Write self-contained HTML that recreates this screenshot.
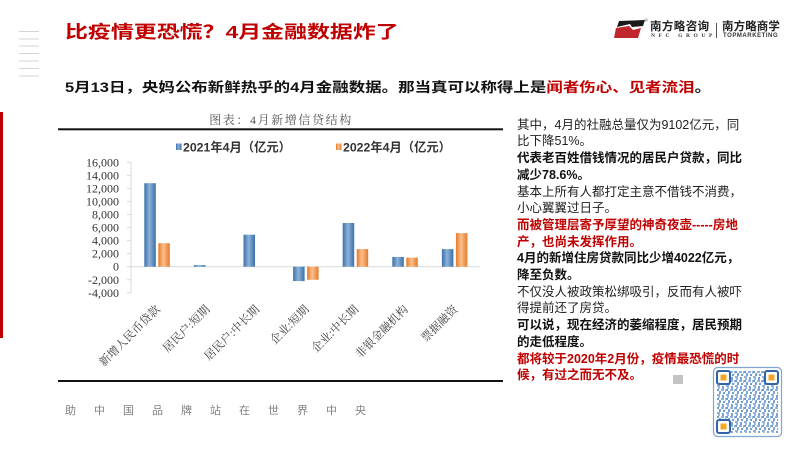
<!DOCTYPE html>
<html><head><meta charset="utf-8">
<style>
html,body{margin:0;padding:0;background:#fff;}
body{width:800px;height:450px;overflow:hidden;position:relative;font-family:"Liberation Sans","Noto Sans CJK SC",sans-serif;}
.abs{position:absolute;white-space:nowrap;}
.title{left:65px;top:24px;font-size:17.5px;line-height:17.5px;font-weight:bold;color:#c00000;transform:scaleX(1.31);transform-origin:left center;}
.sub{left:65px;top:80.5px;font-size:13.5px;line-height:13.5px;font-weight:bold;color:#111;transform:scaleX(1.22);transform-origin:left center;}
.sub .r{color:#c00000;}
.rt{left:517px;top:116.7px;font-size:12.5px;line-height:16.7px;color:#222;}
.rt .b{font-weight:bold;color:#111;}
.rt .r{font-weight:bold;color:#c00000;}
.slogan{left:65px;top:405px;font-size:11px;line-height:13px;color:#808080;letter-spacing:18px;}
</style></head>
<body>
<!-- left red bar -->
<div class="abs" style="left:0;top:112px;width:3px;height:226px;background:#c00000;"></div>
<!-- menu lines -->
<svg class="abs" style="left:0;top:0" width="60" height="90">
<g stroke="#d4d4d4" stroke-width="1">
<line x1="19" y1="31.5" x2="39" y2="31.5"/>
<line x1="19" y1="39" x2="39" y2="39"/>
<line x1="19" y1="46" x2="39" y2="46"/>
<line x1="19" y1="53.5" x2="39" y2="53.5"/>
<line x1="19" y1="61" x2="39" y2="61"/>
<line x1="19" y1="68.5" x2="39" y2="68.5"/>
<line x1="19" y1="76" x2="39" y2="76"/>
</g></svg>

<div class="abs title">比疫情更恐慌？4月金融数据炸了</div>
<div class="abs sub">5月13日，央妈公布新鲜热乎的4月金融数据。那当真可以称得上是<span class="r">闻者伤心、见者流泪</span>。</div>

<!-- logo -->
<svg class="abs" style="left:612px;top:17px" width="36" height="24">
<polygon points="7,4 33,3 31,9 20,10 18,7 5,10" fill="#1a1a1a"/>
<polygon points="4,11 17,9 21,13 29,11 26,21 2,21" fill="#c0272d"/>
<circle cx="34" cy="3" r="1.2" fill="none" stroke="#555" stroke-width="0.5"/>
</svg>
<div class="abs" style="left:650px;top:21px;font-size:11.5px;line-height:12px;font-weight:bold;color:#222;letter-spacing:0.4px;">南方略咨询</div>
<div class="abs" style="left:651px;top:33px;font-size:5.5px;line-height:6px;font-weight:bold;color:#333;letter-spacing:3.6px;font-family:'Liberation Serif',serif;">NFC GROUP</div>
<div class="abs" style="left:715.5px;top:23px;width:1px;height:15px;background:#555;"></div>
<div class="abs" style="left:722px;top:21px;font-size:11.5px;line-height:12px;font-weight:bold;color:#222;letter-spacing:0.1px;">南方略商学</div>
<div class="abs" style="left:723px;top:33px;font-size:6px;line-height:6px;font-weight:bold;color:#333;letter-spacing:0.55px;">TOPMARKETING</div>

<!-- chart -->
<svg class="abs" style="left:0;top:0" width="800" height="450">
<defs>
<linearGradient id="gb" x1="0" y1="0" x2="1" y2="0">
<stop offset="0" stop-color="#3b70aa"/><stop offset="0.45" stop-color="#8db2d8"/><stop offset="1" stop-color="#3b70aa"/>
</linearGradient>
<linearGradient id="go" x1="0" y1="0" x2="1" y2="0">
<stop offset="0" stop-color="#e57a2a"/><stop offset="0.45" stop-color="#fbbf8c"/><stop offset="1" stop-color="#e57a2a"/>
</linearGradient>
<pattern id="qr" x="717" y="371" width="9" height="9" patternUnits="userSpaceOnUse">
<rect x="0" y="0" width="2" height="2" fill="#6f9bd1"/>
<rect x="4" y="0" width="3" height="2" fill="#8fb1dc"/>
<rect x="2" y="2" width="2" height="3" fill="#7aa3d6"/>
<rect x="6" y="3" width="2" height="2" fill="#6f9bd1"/>
<rect x="0" y="5" width="3" height="2" fill="#8fb1dc"/>
<rect x="5" y="6" width="2" height="3" fill="#7aa3d6"/>
<rect x="1" y="7" width="2" height="2" fill="#9dbbe1"/>
<rect x="8" y="0" width="1" height="3" fill="#9dbbe1"/>
</pattern>
</defs>

<text x="281" y="124" text-anchor="middle" font-family="'Liberation Serif','Noto Serif CJK SC',serif" font-size="12" letter-spacing="1.6" fill="#555">图表：4月新增信贷结构</text>
<rect x="58" y="128.3" width="445" height="2" fill="#111"/>
<rect x="58" y="380" width="445" height="2" fill="#111"/>

<!-- legend -->
<rect x="176" y="143.5" width="5.5" height="6.5" fill="url(#gb)"/>
<text x="183" y="151.3" font-family="'Liberation Sans','Noto Sans CJK SC',sans-serif" font-size="12.3" font-weight="bold" fill="#333">2021年4月（亿元）</text>
<rect x="336" y="143.5" width="5.5" height="6.5" fill="url(#go)"/>
<text x="343" y="151.3" font-family="'Liberation Sans','Noto Sans CJK SC',sans-serif" font-size="12.3" font-weight="bold" fill="#333">2022年4月（亿元）</text>

<!-- axes -->
<g stroke="#d9d9d9" stroke-width="1">
<line x1="131" y1="162.3" x2="131" y2="292.8"/>
<line x1="131" y1="266.7" x2="480" y2="266.7"/>
<line x1="127" y1="162.3" x2="131" y2="162.3"/>
<line x1="127" y1="175.35" x2="131" y2="175.35"/>
<line x1="127" y1="188.4" x2="131" y2="188.4"/>
<line x1="127" y1="201.45" x2="131" y2="201.45"/>
<line x1="127" y1="214.5" x2="131" y2="214.5"/>
<line x1="127" y1="227.55" x2="131" y2="227.55"/>
<line x1="127" y1="240.6" x2="131" y2="240.6"/>
<line x1="127" y1="253.65" x2="131" y2="253.65"/>
<line x1="127" y1="266.7" x2="131" y2="266.7"/>
<line x1="127" y1="279.75" x2="131" y2="279.75"/>
<line x1="127" y1="292.8" x2="131" y2="292.8"/>
</g>
<g font-family="'Liberation Serif',serif" font-size="12" fill="#333" text-anchor="end">
<text x="119" y="166.3">16,000</text>
<text x="119" y="179.35">14,000</text>
<text x="119" y="192.4">12,000</text>
<text x="119" y="205.45">10,000</text>
<text x="119" y="218.5">8,000</text>
<text x="119" y="231.55">6,000</text>
<text x="119" y="244.6">4,000</text>
<text x="119" y="257.65">2,000</text>
<text x="119" y="270.7">0</text>
<text x="119" y="283.75">-2,000</text>
<text x="119" y="296.8">-4,000</text>
</g>

<!-- bars -->
<g fill="url(#gb)">
<rect x="144.3" y="183.2" width="11.5" height="83.5"/>
<rect x="193.9" y="265.1" width="11.5" height="1.6"/>
<rect x="243.5" y="234.7" width="11.5" height="32"/>
<rect x="293.1" y="266.7" width="11.5" height="14.4"/>
<rect x="342.7" y="223" width="11.5" height="43.7"/>
<rect x="392.3" y="256.9" width="11.5" height="9.8"/>
<rect x="441.9" y="249.1" width="11.5" height="17.6"/>
</g>
<g fill="url(#go)">
<rect x="158.3" y="243.2" width="11.5" height="23.5"/>
<rect x="307.1" y="266.7" width="11.5" height="13.1"/>
<rect x="356.7" y="249.1" width="11.5" height="17.6"/>
<rect x="406.3" y="257.6" width="11.5" height="9.1"/>
<rect x="455.9" y="233.1" width="11.5" height="33.6"/>
</g>

<!-- x labels -->
<g font-family="'Liberation Serif','Noto Serif CJK SC',serif" font-size="11.5" fill="#404040" text-anchor="end">
<text transform="translate(160.8,310) rotate(-45)">新增人民币贷款</text>
<text transform="translate(210.4,310) rotate(-45)">居民户:短期</text>
<text transform="translate(260,310) rotate(-45)">居民户:中长期</text>
<text transform="translate(309.6,310) rotate(-45)">企业:短期</text>
<text transform="translate(359.2,310) rotate(-45)">企业:中长期</text>
<text transform="translate(408.8,310) rotate(-45)">非银金融机构</text>
<text transform="translate(458.4,310) rotate(-45)">票据融资</text>
</g>

<!-- gray square -->
<rect x="673" y="375" width="10" height="9" fill="#c4c4c4"/>

<!-- QR code -->
<rect x="713.5" y="367.5" width="68" height="69" rx="4" fill="#fff" stroke="#7ea6d6" stroke-width="1.2"/>
<rect x="717" y="371" width="61" height="62" fill="url(#qr)"/>
<g>
<rect x="717" y="371" width="13" height="13" rx="2" fill="#fff" stroke="#2f64a8" stroke-width="2"/>
<rect x="720.5" y="374.5" width="6" height="6" fill="#f5a623"/>
<rect x="765" y="371" width="13" height="13" rx="2" fill="#fff" stroke="#2f64a8" stroke-width="2"/>
<rect x="768.5" y="374.5" width="6" height="6" fill="#f5a623"/>
<rect x="717" y="420" width="13" height="13" rx="2" fill="#fff" stroke="#2f64a8" stroke-width="2"/>
<rect x="720.5" y="423.5" width="6" height="6" fill="#f5a623"/>
</g>
</svg>

<div class="abs rt">
<div>其中，4月的社融总量仅为9102亿元，同</div>
<div>比下降51%。</div>
<div class="b">代表老百姓借钱情况的居民户贷款，同比</div>
<div class="b">减少78.6%。</div>
<div>基本上所有人都打定主意不借钱不消费，</div>
<div>小心翼翼过日子。</div>
<div class="r">而被管理层寄予厚望的神奇夜壶-----房地</div>
<div class="r">产，也尚未发挥作用。</div>
<div class="b">4月的新增住房贷款同比少增4022亿元，</div>
<div class="b">降至负数。</div>
<div>不仅没人被政策松绑吸引，反而有人被吓</div>
<div>得提前还了房贷。</div>
<div class="b">可以说，现在经济的萎缩程度，居民预期</div>
<div class="b">的走低程度。</div>
<div class="r">都将较于2020年2月份，疫情最恐慌的时</div>
<div class="r">候，有过之而无不及。</div>
</div>

<div class="abs slogan">助中国品牌站在世界中央</div>
</body></html>
